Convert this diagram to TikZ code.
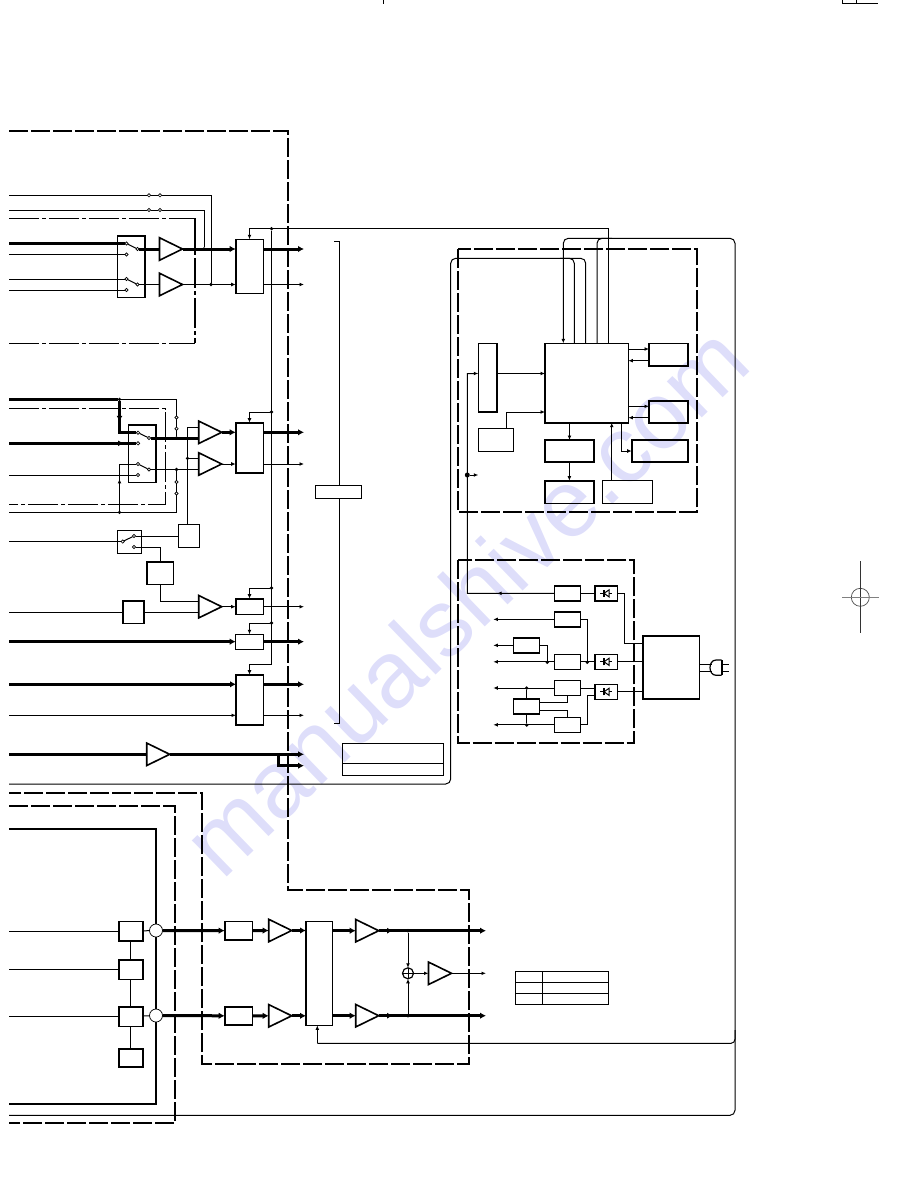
\documentclass[tikz,border=0pt]{standalone}
\usepackage{amsmath}
\usepackage{tikz}
\usepackage{fontspec}
\newfontfamily\markfont{Liberation Sans}
\usetikzlibrary{arrows.meta,fit,shapes.geometric,decorations.markings}
\definecolor{markblue}{RGB}{222,222,250}

\tikzset{
    framedash/.style={line width=2.2pt,dash pattern=on 19pt off 3pt},
    dotframe/.style={line width=1pt,dash pattern=on 30pt off 3pt on 4pt off 3pt},
    sigline/.style={line width=1pt},
    busline/.style={line width=3pt},
    sigtip/.style={-{Latex[length=4.5pt,width=3.8pt]}},
    bustip/.style={-{Latex[length=6pt,width=6.5pt]}},
    midtip/.style={postaction={decorate},decoration={markings,
        mark=at position #1 with {\arrow{Latex[length=4.5pt,width=3.8pt]}}}},
    busmid/.style={postaction={decorate},decoration={markings,
        mark=at position #1 with {\arrow{Latex[length=5.5pt,width=6pt]}}}},
    blockbox/.style={draw,line width=1.6pt,inner sep=0pt,outer sep=0pt},
    thinbox/.style={draw,line width=1pt,inner sep=0pt,outer sep=0pt},
    ampl/.style={draw,line width=1.6pt,isosceles triangle,isosceles triangle stretches,
        minimum width=22.5pt,minimum height=23pt,inner sep=0pt,outer sep=0pt,anchor=west},
    contactdot/.style={circle,draw,fill=white,line width=.7pt,minimum size=3.4pt,inner sep=0pt,outer sep=0pt},
    jointdot/.style={circle,fill=black,minimum size=3.6pt,inner sep=0pt,outer sep=0pt},
    mixcircle/.style={circle,draw,fill=white,line width=.7pt,minimum size=13pt,inner sep=0pt,outer sep=0pt}
}

\begin{document}
\begin{tikzpicture}[x=1pt,y=-1pt]
    \useasboundingbox (0,0) rectangle (918,1188);

    \node[rotate=44,text=markblue,inner sep=0pt] (wmark) at (465,600)
        {\markfont\fontsize{95}{95}\selectfont manualshive.com};

    % dashed frames
    \draw[framedash] (9,131) -- (288,131) -- (288,890) -- (469,890) -- (469,1064) -- (202,1064) -- (202,793) -- (9,793);
    \draw[framedash] (9,806) -- (175,806) -- (175,1123) -- (9,1123);
    \draw[framedash] (457.7,249.3) rectangle (697,511.7);
    \draw[framedash] (457.7,560) rectangle (634,743);
    \draw[dotframe] (9,218) -- (195,218);
    \draw[dotframe] (9,343) -- (195,343);
    \draw[dotframe,line width=2pt] (195,218) -- (195,343);
    \draw[dotframe] (9,408.7) -- (165.7,408.7) -- (165.7,504.3) -- (9,504.3);

    % free ends
    \coordinate (lft) at (9,0);
    \coordinate (rgt) at (304,0);
    \coordinate (rgtb) at (486,0);
    \coordinate (lin) at (493.3,0);

    % blocks
    \foreach \bx/\xa/\ya/\xb/\yb in {
        relc/146.7/562/173.3/584.3, reld/122.7/600.7/143.7/623.3,
        mxa/235.7/239.3/263.3/293.3, mxb/235.7/422.7/263.3/473, mxc/235.7/598.7/263.3/614.3,
        mxe/235.7/674.7/263.3/725,
        mcu/545/343.3/628.3/422.7, dspa/478.3/343.3/497/412,
        lcdc/545/440/593.7/462, lcdp/545/480.7/593.7/503.3,
        mema/649/343.3/687.7/366, memb/649/401/687.7/423, tunc/631.7/440/687.7/462,
        pwa/554.3/585.7/580.3/601, pwb/554.3/611.7/580.3/627,
        qa/513.3/637.7/539.3/653, qb/513.3/698.7/539.3/714,
        recta/594.7/585.7/617.3/601, rectb/594.7/654.3/617.3/669.3, rectc/594.7/684.3/617.3/699.3,
        trf/642.7/635.7/699.3/699,
        nta/118.7/921.3/142.7/941, ntb/118.7/959.7/142.7/979.3, ntc/118.7/1006.7/142.7/1026.3, ntd/118.7/1048.7/142.7/1066.7,
        eqa/224.7/921.3/252.3/940, eqb/224.7/1006.7/252.3/1025, mute/306/921.3/332.3/1025.3}
        \node[blockbox,fit={(\xa,\ya) (\xb,\yb)}] (\bx) {};
    \foreach \bx/\xa/\ya/\xb/\yb in {
        sela/117/236/145/297, selb/128.7/424.7/156/482.3, sele/117.3/530.3/141.3/553,
        relb/178.3/524.7/199.3/547.3, mxd/235.7/634.3/263.3/649,
        clka/478.3/428.7/513.3/451, keyp/602.7/480.7/652.7/503.3,
        pwc/554.3/654.3/580.3/669.3, pwd/554.3/680.3/580.3/695.7, pwe/554.3/717.3/580.3/732.3,
        brace/315.3/485.3/361/498.3, tba/342/743/443/775, tbb/515.7/971.3/608.3/1004.3}
        \node[thinbox,fit={(\xa,\ya) (\xb,\yb)}] (\bx) {};
    \draw[line width=1.8pt] (sela.north west) -- (sela.north east) -- (sela.south east);
    \draw[line width=1.8pt] (selb.north west) -- (selb.north east) -- (selb.south east);

    % amplifiers
    \foreach \am/\px/\py in {ampa/159.5/249, ampb/159.5/284.5, ampc/198.7/432.3, ampd/198.7/464,
        ampe/198.7/606.7, amps/146.7/754.3, ampf/268.7/930.5, ampg/268.7/1015.8,
        amph/355.7/930.7, ampi/355.7/1015.7, ampj/428.5/973.3}
        \node[ampl] (\am) at (\px,\py) {};

    % contacts
    \foreach \ct/\px/\py in {swa1/126.5/243.5, swa2/126.5/254.5, swa3/137.5/249, swb1/126.5/279,
        swb2/126.5/290, swb3/137.5/284.5, swc1/138/432.7, swc2/138/443.3, swc3/149/438,
        swd1/138/464, swd2/138/475, swd3/149/469.5, swe1/122.7/541.5, swe2/134/536, swe3/134/547,
        ga/149/195.3, gb/160/195.3, gc/149/210, gd/160/210,
        ge/176.5/417.5, gf/176.5/428.7, gg/176.5/482, gh/176.5/493.5}
        \node[contactdot] (\ct) at (\px,\py) {};

    % joints
    \foreach \jt/\px/\py in {ja/211/284.5, jb/204/249, jc/119.5/399.3, jd/176.5/438, je/176.5/469.5,
        jf/119.5/512.3, jg/187.5/458.3, jk/271.5/228.7, jl/271.5/412, jm/271.5/588, jn/271.5/623,
        jq/547.3/662.3, jr/587.3/662.3, js/526.7/688, jt/526.7/725,
        jw/408/930.7, jx/408/1015.7}
        \node[jointdot] (\jt) at (\px,\py) {};
    \node[jointdot,minimum size=5pt] (ju) at (467.3,475) {};

    % first input group
    \draw[sigline] (lft |- ga) -- (ga) -- (gb) -| (ja);
    \draw[sigline] (lft |- gc) -- (gc) -- (gd) -| (jb);
    \draw[busline] (lft |- swa1) -- (swa1);
    \draw[sigline] (lft |- swa2) -- (swa2);
    \draw[sigline] (lft |- swb1) -- (swb1);
    \draw[sigline] (lft |- swb2) -- (swb2);
    \draw[sigline] (swa1) -- (swa3);
    \draw[sigline] (swb1) -- (swb3);
    \draw[busline] (swa3) -- (ampa.west);
    \draw[sigline] (swb3) -- (ampb.west);
    \draw[busline,bustip] (ampa.apex) -- (mxa.west |- ampa.apex);
    \draw[sigline,sigtip] (ampb.apex) -- (mxa.west |- ampb.apex);
    \draw[busline,bustip] (mxa.east |- ampa.apex) -- (rgt |- ampa.apex);
    \draw[sigline,sigtip] (mxa.east |- ampb.apex) -- (rgt |- ampb.apex);

    % second input group
    \draw[busline] (lft |- jc) -- (jc);
    \draw[busline,busmid=0.42] (jc) |- (swc1);
    \draw[sigline] (jc) -| (ge);
    \draw[sigline] (ge) -- (gf) -- (jd);
    \draw[busline,busmid=0.9] (lft |- swc2) -- (swc2);
    \draw[sigline] (swc1) -- (swc3);
    \draw[sigline] (swd1) -- (swd3);
    \draw[busline] (swc3) -- (ampc.west |- swc3);
    \draw[sigline] (swd3) -- (ampd.west |- swd3);
    \draw[sigline,midtip=0.5] (jf) |- (swd1);
    \draw[sigline] (lft |- swd2) -- (swd2);
    \draw[sigline] (lft |- jf) -- (jf) -| (gh);
    \draw[sigline] (gh) -- (gg) -- (je);
    \coordinate (inc) at (198.7,427.3);
    \draw[sigline] (inc) -| (jg);
    \draw[sigline] (jg) -- (jg |- relb.north);
    \draw[sigline] (jg) -- (ampd.west |- jg);
    \draw[busline,bustip] (ampc.apex) -- (mxb.west |- ampc.apex);
    \draw[sigline,sigtip] (ampd.apex) -- (mxb.west |- ampd.apex);
    \draw[busline,bustip] (mxb.east |- ampc.apex) -- (rgt |- ampc.apex);
    \draw[sigline,sigtip] (mxb.east |- ampd.apex) -- (rgt |- ampd.apex);

    % third input group
    \draw[sigline] (lft |- swe1) -- (swe1);
    \draw[sigline] (swe1) -- (swe2);
    \draw[sigline] (swe2) -- (relb.west |- swe2);
    \draw[sigline] (swe3) -| (relc.north);
    \coordinate (ine) at (198.7,601.3);
    \draw[sigline] (relc.south) |- (ine);
    \draw[sigline] (lft |- reld) -- (reld);
    \draw[sigline] (reld) -- (ampe.west |- reld);
    \draw[sigline,sigtip] (ampe.apex) -- (mxc.west |- ampe.apex);
    \draw[sigline,sigtip] (mxc.east |- ampe.apex) -- (rgt |- ampe.apex);
    \draw[busline,bustip] (lft |- mxd) -- (mxd.west);
    \draw[busline,bustip] (mxd.east) -- (rgt |- mxd);
    \coordinate (ina) at (236,684.3);
    \coordinate (inb) at (236,715.3);
    \draw[busline,bustip] (lft |- ina) -- (ina);
    \draw[sigline,sigtip] (lft |- inb) -- (inb);
    \draw[busline,bustip] (mxe.east |- ina) -- (rgt |- ina);
    \draw[sigline,sigtip] (mxe.east |- inb) -- (rgt |- inb);
    \draw[busline] (lft |- amps.west) -- (amps.west);
    \draw[busline,bustip] (amps.apex) -- (rgt |- amps.apex);
    \coordinate (spl) at (278,754.3);
    \coordinate (spt) at (304,765.7);
    \draw[busline,bustip] (spl) |- (spt);

    % control lines
    \coordinate (ctlb) at (271.5,664);
    \draw[sigline,sigtip] (jk) -| (mxa.north);
    \draw[sigline] (jk) -- (ctlb);
    \draw[sigline,sigtip] (ctlb) -| (mxe.north);
    \draw[sigline,sigtip] (jl) -| (mxb.north);
    \draw[sigline,sigtip] (jm) -| (mxc.north);
    \draw[sigline,sigtip] (jn) -| (mxd.north);
    \foreach \i/\px in {1/563.3,2/574.3,3/585.7,4/597,5/608.3}
        \coordinate (mcut\i) at (\px,343.3);
    \draw[sigline] (jk) -| (mcut5);
    \draw[sigline,sigtip,rounded corners=5pt]
        (lft |- 0,1115.3) -- (735,1115.3) -- (735,238.3) -- (563.3,238.3) -- (mcut1);
    \draw[sigline,rounded corners=5pt] (mcut4) -- (597,238.3) -- (612,238.3);
    \draw[sigline,rounded corners=5pt] (lft |- 0,784) -- (450.7,784) -- (450.7,258.3) -- (585.7,258.3) -- (mcut3);
    \draw[sigline,rounded corners=5pt] (mcut2) -- (574.3,258.3) -- (560,258.3);
    \coordinate (muti) at (317.3,1043.3);
    \draw[sigline,sigtip] (muti) -- (mute.south -| muti);
    \draw[sigline,rounded corners=4pt] (735,1030) -- (735,1043.3) -- (muti);

    % bracket
    \coordinate (brt) at (334,241.3);
    \coordinate (brb) at (334,723.3);
    \draw[sigline] (brt) -| ([xshift=1.5pt]brace.north);
    \draw[sigline] ([xshift=1.5pt]brace.south) |- (brb);

    % tables
    \coordinate (tbr) at (400,763.3);
    \draw[sigline] (tba.west |- tbr) -- (tba.east |- tbr);
    \foreach \py in {982.3,993.3}
        \draw[sigline] (tbb.west |- 0,\py) -- (tbb.east |- 0,\py);
    \draw[sigline] (542.7,971.3 |- tbb.north) -- (542.7,971.3 |- tbb.south);

    % micro section
    \coordinate (dspb) at (478.3,373.5);
    \coordinate (dspc) at (478.3,475);
    \coordinate (ckt) at (545,412);
    \draw[sigline,sigtip] (dspa.east |- dspb) -- (mcu.west |- dspb);
    \draw[sigline,sigtip,midtip=0.18] (pwa) -- (467.3,593.3) |- (dspb);
    \draw[sigline,sigtip] (ju) -- (dspc);
    \draw[sigline,sigtip] (506.5,428.7) |- (ckt);
    \draw[sigline,sigtip] (569.5,422.7) -- (lcdc.north -| 569.5,0);
    \draw[sigline,sigtip] (lcdc) -- (lcdp);
    \draw[sigline,sigtip] (keyp.north -| 611.7,0) -- (mcu.south -| 611.7,0);
    \draw[sigline,sigtip] (621.3,422.7) |- (tunc.west |- 0,451);
    \draw[sigline,sigtip] (mcu.east |- 0,349) -- (mema.west |- 0,349);
    \draw[sigline,sigtip] (mema.west |- 0,360.7) -- (mcu.east |- 0,360.7);
    \draw[sigline,sigtip] (mcu.east |- 0,406.3) -- (memb.west |- 0,406.3);
    \draw[sigline,sigtip] (memb.west |- 0,417.7) -- (mcu.east |- 0,417.7);

    % power section
    \draw[sigline] (pwa) -- (recta);
    \coordinate (tra) at (642.7,643.3);
    \draw[sigline] (recta.east) -- +(7.4,0) |- (tra);
    \draw[sigline,sigtip] (pwb) -- (lin |- pwb);
    \draw[sigline] (pwb.east) -| (jr);
    \draw[sigline] (pwc) -- (rectb);
    \draw[sigline] (rectb) -- (trf.west |- rectb);
    \draw[sigline,sigtip] (pwc) -- (lin |- pwc);
    \draw[sigline,sigtip] (qa) -- (lin |- qa);
    \draw[sigline] (qa.east) -| (jq);
    \draw[sigline,sigtip] (pwd) -- (lin |- pwd);
    \draw[sigline] (pwd.east) -- (rectc.west |- pwd);
    \draw[sigline] (qb.north -| js) -- (js);
    \draw[sigline] (qb.south -| jt) -- (jt);
    \draw[sigline,sigtip] (pwe) -- (lin |- pwe);
    \coordinate (rcb) at (594.7,695.7);
    \draw[sigline] (pwe.east) -- +(7,0) |- (rcb);
    \draw[sigline] (qb.east |- 0,702.3) -| (pwd.south);
    \draw[sigline] (qb.east |- 0,710.3) -| (pwe.north);
    \draw[sigline] (rectc) -- (trf.west |- rectc);
    \foreach \rc in {recta,rectb,rectc} {
        \draw[line width=.9pt] ([xshift=-6pt]\rc.center) -- ([xshift=-2pt]\rc.center);
        \draw[line width=.9pt] ([xshift=3pt]\rc.center) -- ([xshift=6pt]\rc.center);
        \draw[line width=1.1pt] ([xshift=-2pt,yshift=-3.5pt]\rc.center) -- ([xshift=-2pt,yshift=3.5pt]\rc.center);
        \draw[line width=1pt] ([xshift=-2pt]\rc.center) -- ([xshift=3pt,yshift=3.5pt]\rc.center) -- ([xshift=3pt,yshift=-3.5pt]\rc.center) -- cycle;
    }

    % mains plug
    \draw[sigline] (trf.east |- 0,664) -- (712,664);
    \draw[sigline] (trf.east |- 0,671.5) -- (712,671.5);
    \draw[line width=1.2pt] (721.7,660) -- (716,660) .. controls (708,660) and (708,675.3) .. (716,675.3) -- (721.7,675.3);
    \draw[line width=1.6pt] (721.7,660) -- (721.7,675.3);
    \draw[sigline] (721.7,664) -- (729,664);
    \draw[sigline] (721.7,671.5) -- (729,671.5);

    % decoder section
    \coordinate (mixa) at (156,930.5);
    \coordinate (mixb) at (156,1015.5);
    \draw[line width=1.3pt] (lft |- 0,829) -- (156,829) -- (156,1104) -- (lft |- 0,1104);
    \node[mixcircle] (mca) at (mixa) {};
    \node[mixcircle] (mcb) at (mixb) {};
    \draw[sigline] (lft |- nta) -- (nta);
    \draw[sigline] (lft |- ntb) -- (ntb);
    \draw[sigline] (lft |- ntc) -- (ntc);
    \draw[sigline] (nta) -- (ntb);
    \draw[sigline] (ntb) -- (ntc);
    \draw[sigline] (ntc) -- (ntd);
    \draw[sigline] (nta) -- (mca);
    \draw[sigline] (ntc) -- (mcb);
    \draw[busline,bustip] (mca) -- (eqa);
    \draw[busline,bustip] (mcb) -- (eqb);
    \draw[busline,bustip] (eqa) -- (ampf.west);
    \draw[busline,bustip] (eqb) -- (ampg.west);
    \draw[busline,bustip] (ampf.apex) -- (mute.west |- ampf.apex);
    \draw[busline,bustip] (ampg.apex) -- (mute.west |- ampg.apex);
    \draw[busline,bustip] (mute.east |- amph.west) -- (amph.west);
    \draw[busline,bustip] (mute.east |- ampi.west) -- (ampi.west);
    \draw[busline,bustip,busmid=0.13] (amph.apex) -- (rgtb |- amph.apex);
    \draw[busline,bustip,busmid=0.13] (ampi.apex) -- (rgtb |- ampi.apex);
    \node[circle,draw,line width=1.2pt,minimum size=11pt,inner sep=0pt,outer sep=0pt] (sumo) at (408,973.3) {};
    \draw[sigline,sigtip] (jw) -- (sumo);
    \draw[sigline,sigtip] (jx) -- (sumo);
    \draw[sigline] (sumo.north) -- (sumo.south);
    \draw[sigline] (sumo.west) -- (sumo.east);
    \draw[sigline,sigtip] (sumo) -- (ampj.west);
    \draw[sigline,sigtip] (ampj.apex) -- (rgtb |- ampj.apex);

    % crop marks
    \draw[sigline] (383,0) -- (383,4);
    \draw[sigline] (842.7,0) -- (842.7,3.3) -- (878,3.3);
    \draw[sigline] (856.7,0) -- (856.7,3.3);
    \node[circle,draw=black!70,line width=.7pt,minimum size=18pt,inner sep=0pt,outer sep=0pt] (reg) at (860.3,597.3) {};
    \draw[line width=.7pt,black!80] (860.3,561) -- (860.3,633);
    \draw[line width=.5pt,black!50] (842,597.3) -- (878.7,597.3);
\end{tikzpicture}
\end{document}
